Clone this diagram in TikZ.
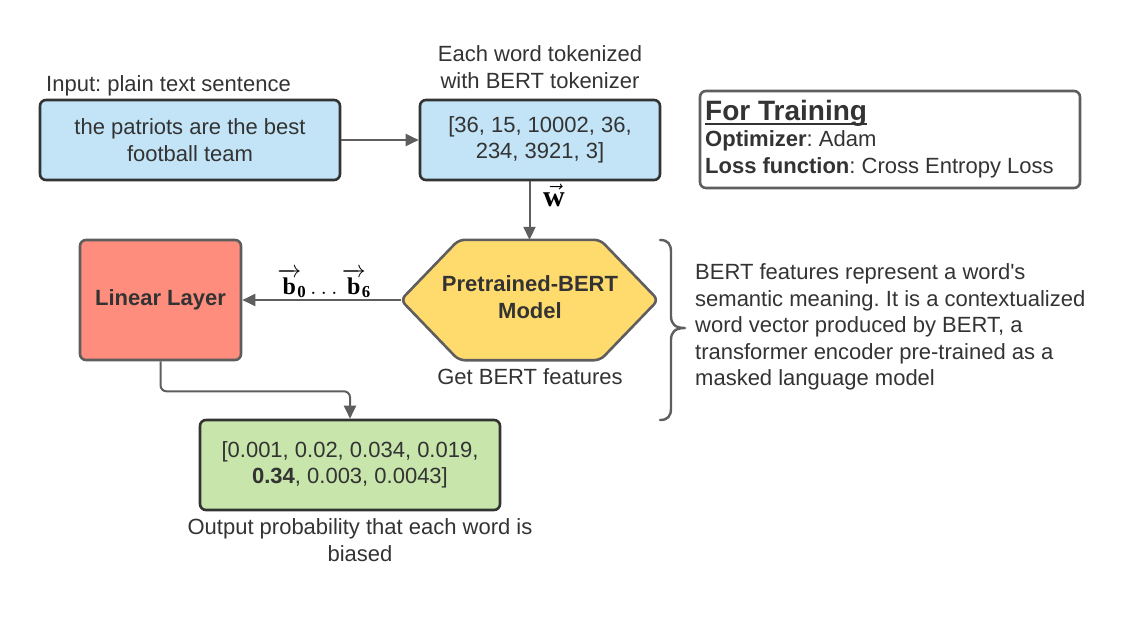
\RequirePackage{fix-cm}
\documentclass[tikz,border=0pt]{standalone}
\usepackage{amsmath}
\usepackage{fontspec}
\setmainfont{Liberation Sans}
\newfontfamily\tmsfont{Liberation Serif}
\frenchspacing
\usetikzlibrary{arrows.meta}
\definecolor{txt}{HTML}{333333}
\definecolor{edge}{HTML}{5E5E5E}
\definecolor{blueF}{HTML}{C2E4F6}
\definecolor{redF}{HTML}{FF8D7D}
\definecolor{yelF}{HTML}{FFDB6E}
\definecolor{grnF}{HTML}{C8E6AB}
\newcommand{\tb}[1]{\text{\tmsfont\bfseries #1}}
\begin{document}
\begin{tikzpicture}[x=1pt,y=-1pt,
  base/.style={inner sep=0pt, align=center, text=txt, font=\fontsize{22}{26.5}\selectfont},
  lbl/.style={base},
  boxnode/.style={base, line width=2.6pt, rounded corners=6pt},
  bluebox/.style={boxnode, draw=txt, fill=blueF},
  redbox/.style={boxnode, draw=edge, fill=redF, font=\bfseries\fontsize{22}{26.5}\selectfont},
  grnbox/.style={boxnode, draw=txt, fill=grnF},
  trainbox/.style={boxnode, draw=edge, fill=white},
  hexline/.style={draw=edge, line width=2.6pt, fill=yelF, rounded corners=6pt},
  arr/.style={draw=edge, line width=2pt, -{Triangle[length=13pt,width=12pt]}},
  mathlbl/.style={inner sep=0pt, text=black, font=\fontsize{24}{28}\selectfont},
  bracestyle/.style={draw=edge, line width=2.4pt, line cap=round, line join=round}
]
\useasboundingbox (0,0) rectangle (1140,630);

% top row
\node[bluebox, minimum width=300, minimum height=80] (in) at (190,140)
  {the patriots are the best\\football team};
\node[bluebox, minimum width=240, minimum height=80] (tok) at (540,140)
  {[36, 15, 10002, 36,\\234, 3921, 3]};
\node[lbl, anchor=west] (inlbl) at (46,86) {Input: plain text sentence};
\node[lbl] (toklbl) at (540,67) {Each word tokenized\\with BERT tokenizer};

% training box
\node[trainbox, minimum width=380, minimum height=97] (train) at (890,139.5) {};
\node[lbl, anchor=base west, font=\bfseries\fontsize{28}{32}\selectfont] (tt) at (705,120) {For Training};
\draw[txt, line width=2pt] ([yshift=-3.5pt]tt.base west) -- ([yshift=-3.5pt]tt.base east);
\node[lbl, anchor=west] (t1) at (705,141) {\textbf{Optimizer}: Adam};
\node[lbl, anchor=west] (t2) at (705,168) {\textbf{Loss function}: Cross Entropy Loss};

% hexagon
\node[minimum width=257, minimum height=120, inner sep=0pt] (hex) at (529.5,300) {};
\draw[hexline] (hex.west) -- ([xshift=58pt]hex.north west) -- ([xshift=-58pt]hex.north east)
  -- (hex.east) -- ([xshift=-58pt]hex.south east) -- ([xshift=58pt]hex.south west) -- cycle;
\node[lbl, font=\bfseries\fontsize{22}{27}\selectfont] (hextxt) at (530,297) {Pretrained-BERT\\Model};
\node[lbl] (getlbl) at (530,377) {Get BERT features};

% linear layer
\node[redbox, minimum width=161, minimum height=120] (lin) at (160.5,300) {Linear Layer};

% output box
\node[grnbox, minimum width=300, minimum height=90] (grn) at (350,465)
  {[0.001, 0.02, 0.034, 0.019,\\\textbf{0.34}, 0.003, 0.0043]};
\node[lbl] (outlbl) at (360,540) {Output probability that each word is\\biased};

% brace and note
\coordinate (brtop) at (660,240);
\coordinate (brbot) at (660,420);
\coordinate (brtip) at (685,328);
\draw[bracestyle] (brtop) .. controls (668,240) and (671,244) .. (671,252) -- (671,316)
  .. controls (671,324) and (675,328) .. (brtip)
  .. controls (675,328) and (671,332) .. (671,340) -- (671,408)
  .. controls (671,416) and (668,420) .. (brbot);
\node[lbl, anchor=west, align=left] (note) at (695,327)
  {BERT features represent a word\textquotesingle s\\semantic meaning. It is a contextualized\\word vector produced by BERT, a\\transformer encoder pre-trained as a\\masked language model};

% connectors
\draw[arr] (in.east) -- (tok.west);
\draw[arr] (tok.south -| hex.north) -- (hex.north);
\draw[arr] (hex.west) -- (lin.east);
\draw[arr, rounded corners=6pt] (lin.south) -- ++(0,30) -| (grn.north);

% math labels
\node[mathlbl, anchor=base, font=\fontsize{30}{32}\selectfont] (wlbl) at (554,206) {$\vec{\tb{w}}$};
\node[mathlbl, anchor=base] (blbl) at (324,294) {$\overrightarrow{\tb{b}}\!_{\tb{0}}\,{\ldots}\,\overrightarrow{\tb{b}}\!_{\tb{6}}$};
\end{tikzpicture}
\end{document}
